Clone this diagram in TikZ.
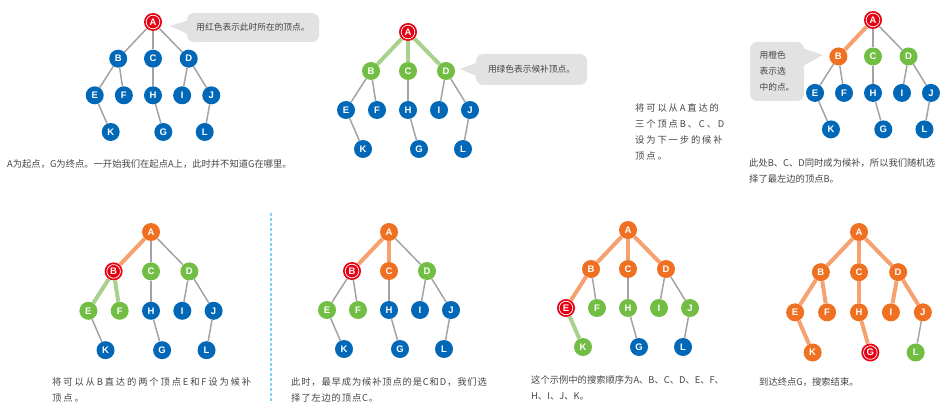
\documentclass[tikz,border=0pt]{standalone}
\usepackage{fontspec}
\usetikzlibrary{calc}
\setmainfont{Noto Sans CJK SC}
\newfontfamily\widefont[LetterSpace=20]{Noto Sans CJK SC}
\newfontfamily\semiwidefont[LetterSpace=9]{Noto Sans CJK SC}
\newfontfamily\lblfont{Liberation Sans}
\definecolor{nodeblue}{HTML}{0068B7}
\definecolor{nodegreen}{HTML}{72BE44}
\definecolor{nodeorange}{HTML}{F07021}
\definecolor{nodered}{HTML}{E60012}
\definecolor{edgegray}{HTML}{A3A3A3}
\definecolor{edgegreen}{HTML}{A9D18E}
\definecolor{edgeorange}{HTML}{F5A270}
\definecolor{textgray}{HTML}{444444}
\definecolor{bubblegray}{HTML}{E2E2E2}
\definecolor{sepblue}{HTML}{7FD3F5}
\tikzset{
  vertex/.style={circle, minimum size=18pt, inner sep=0pt, text=white,
    font=\lblfont\bfseries\fontsize{9.5}{10}\selectfont},
  vblue/.style={vertex, fill=nodeblue},
  vgreen/.style={vertex, fill=nodegreen},
  vorange/.style={vertex, fill=nodeorange},
  vred/.style={vertex, fill=nodered, path picture={
    \draw[white, line width=0.7pt] (path picture bounding box.center) circle (6.8pt);}},
  gline/.style={draw=edgegray, line width=1.5pt},
  gthick/.style={draw=edgegreen, line width=4pt},
  othick/.style={draw=edgeorange, line width=4pt},
  bubble/.style={fill=bubblegray, rounded corners=7pt, text=textgray, align=left,
    inner sep=0pt, font=\fontsize{8.7}{16}\selectfont},
  caption/.style={anchor=north west, inner sep=0pt, align=left, text=textgray,
    font=\fontsize{9.3}{16}\selectfont},
}
% #1 prefix, #2 position of A, #3 scale, #4 vertices, #5 edges
\newcommand\bfstree[5]{%
  \begin{scope}[shift={#2}, scale=#3]
    \foreach \n/\dx/\dy in {A/0/0, B/-37/39, C/0/39, D/38/39, E/-62/78, F/-31/78,
        H/0/78, I/31/78, J/62/78, K/-45/117, G/11/117, L/55/117}
      \coordinate (#1\n) at (\dx,\dy);
  \end{scope}
  \foreach \n/\s in {#4}
    \node[\s] (#1\n) at (#1\n) {\n};
  \foreach \a/\b/\s in {#5}
    \draw[\s] (#1\a) -- (#1\b);
}

\begin{document}
\begin{tikzpicture}[x=1pt, y=-1pt]
  \useasboundingbox (0,0) rectangle (944,406);

  % step 1
  \bfstree{s1}{(153,22)}{0.94}
    {A/vred, B/vblue, C/vblue, D/vblue, E/vblue, F/vblue, H/vblue, I/vblue, J/vblue, K/vblue, G/vblue, L/vblue}
    {A/B/gline, A/C/gline, A/D/gline, B/E/gline, B/F/gline, C/H/gline, D/I/gline, D/J/gline, E/K/gline, H/G/gline, J/L/gline}
  \node[bubble, minimum width=132pt, minimum height=29pt] (tip1) at (253,27.5) {用红色表示此时所在的顶点。};
  \fill[bubblegray] ($(tip1.west)+(4,-8)$) -- (170,26) -- ($(tip1.west)+(4,8)$) -- cycle;
  \node[caption] (cap1) at (7,159) {A为起点，G为终点。一开始我们在起点A上，此时并不知道G在哪里。};

  % step 2
  \bfstree{s2}{(408,32)}{1}
    {A/vred, B/vgreen, C/vgreen, D/vgreen, E/vblue, F/vblue, H/vblue, I/vblue, J/vblue, K/vblue, G/vblue, L/vblue}
    {A/B/gthick, A/C/gthick, A/D/gthick, B/E/gline, B/F/gline, C/H/gline, D/I/gline, D/J/gline, E/K/gline, H/G/gline, J/L/gline}
  \node[bubble, minimum width=111pt, minimum height=31pt] (tip2) at (531.5,69.5) {用绿色表示候补顶点。};
  \fill[bubblegray] ($(tip2.west)+(4,-8)$) -- (460,69) -- ($(tip2.west)+(4,8)$) -- cycle;
  \node[caption, font=\widefont\fontsize{9.3}{16}\selectfont] (cap2) at (635,103)
    {将可以从A直达的\\三个顶点B、C、D\\设为下一步的候补\\顶点。};

  % step 3
  \bfstree{s3}{(873,20)}{0.935}
    {A/vred, B/vorange, C/vgreen, D/vgreen, E/vblue, F/vblue, H/vblue, I/vblue, J/vblue, K/vblue, G/vblue, L/vblue}
    {A/B/othick, A/C/gline, A/D/gline, B/E/gline, B/F/gline, C/H/gline, D/I/gline, D/J/gline, E/K/gline, H/G/gline, J/L/gline}
  \node[bubble, minimum width=54pt, minimum height=59pt] (tip3) at (777,71.5) {用橙色\\表示选\\中的点。};
  \fill[bubblegray] ($(tip3.east)+(-4,-24)$) -- (823,55) -- ($(tip3.east)+(-4,-4)$) -- cycle;
  \node[caption] (cap3) at (749,158) {此处B、C、D同时成为候补，所以我们随机选\\择了最左边的顶点B。};

  % step 4
  \bfstree{s4}{(151,232)}{1.01}
    {A/vorange, B/vred, C/vgreen, D/vgreen, E/vgreen, F/vgreen, H/vblue, I/vblue, J/vblue, K/vblue, G/vblue, L/vblue}
    {A/B/othick, A/C/gline, A/D/gline, B/E/gthick, B/F/gthick, C/H/gline, D/I/gline, D/J/gline, E/K/gline, H/G/gline, J/L/gline}
  \node[caption, font=\widefont\fontsize{9.3}{16}\selectfont] (cap4) at (52,377)
    {将可以从B直达的两个顶点E和F设为候补\\顶点。};

  % separator
  \draw[sepblue, line width=1.3pt, dash pattern=on 2.5pt off 2.5pt] (271,213) -- (271,403);

  % step 5
  \bfstree{s5}{(389,232)}{1}
    {A/vorange, B/vred, C/vorange, D/vgreen, E/vgreen, F/vgreen, H/vblue, I/vblue, J/vblue, K/vblue, G/vblue, L/vblue}
    {A/B/othick, A/C/othick, A/D/gline, B/E/gline, B/F/gline, C/H/gline, D/I/gline, D/J/gline, E/K/gline, H/G/gline, J/L/gline}
  \node[caption, font=\semiwidefont\fontsize{9.3}{16}\selectfont] (cap5) at (291,377)
    {此时，最早成为候补顶点的是C和D，我们选\\择了左边的顶点C。};

  % step 6
  \bfstree{s6}{(628,230)}{1}
    {A/vorange, B/vorange, C/vorange, D/vorange, E/vred, F/vgreen, H/vgreen, I/vgreen, J/vgreen, K/vgreen, G/vblue, L/vblue}
    {A/B/othick, A/C/othick, A/D/othick, B/E/othick, B/F/gline, C/H/gline, D/I/gline, D/J/gline, E/K/gthick, H/G/gline, J/L/gline}
  \node[caption] (cap6) at (531,375) {这个示例中的搜索顺序为A、B、C、D、E、F、\\H、I、J、K。};

  % step 7
  \bfstree{s7}{(859,232)}{1.03}
    {A/vorange, B/vorange, C/vorange, D/vorange, E/vorange, F/vorange, H/vorange, I/vorange, J/vorange, K/vorange, G/vred, L/vgreen}
    {A/B/othick, A/C/othick, A/D/othick, B/E/othick, B/F/othick, C/H/othick, D/I/othick, D/J/othick, E/K/othick, H/G/othick, J/L/gline}
  \node[caption] (cap7) at (759,377) {到达终点G，搜索结束。};
\end{tikzpicture}
\end{document}
